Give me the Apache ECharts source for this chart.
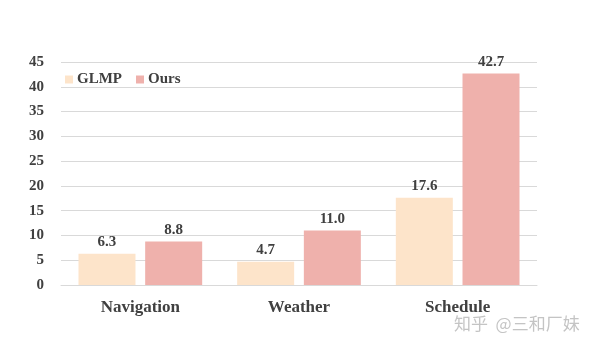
<!DOCTYPE html>
<html><head><meta charset="utf-8">
<script src="https://cdn.jsdelivr.net/npm/echarts@6/dist/echarts.min.js"></script>
<style>html,body{margin:0;padding:0;background:#fff}#c{width:600px;height:350px}</style>
</head><body><div id="c"></div>
<script>
const categories = ['Navigation', 'Weather', 'Schedule'];
const glmp = [6.3, 4.7, 17.6];
const ours = [8.8, 11.0, 42.7];
const seriesNames = ['GLMP', 'Ours'];
const yTicks = [0, 5, 10, 15, 20, 25, 30, 35, 40, 45];

const font = '"Liberation Serif", "Times New Roman", serif';
const chart = echarts.init(document.getElementById('c'));
chart.setOption({
  animation: false,
  grid: { left: 61, right: 63, top: 62, bottom: 65 },
  legend: {
    left: 60, top: 67, itemWidth: 8, itemHeight: 8, itemGap: 14,
    icon: 'rect',
    textStyle: { fontFamily: font, fontWeight: 'bold', fontSize: 15, color: '#404040', padding: [0, 0, 0, -1] },
    data: seriesNames
  },
  xAxis: {
    type: 'category', data: categories,
    axisLine: { show: true, lineStyle: { color: '#d9d9d9' } },
    axisTick: { show: false },
    axisLabel: { fontFamily: font, fontWeight: 'bold', fontSize: 17, color: '#404040', margin: 14 }
  },
  yAxis: {
    type: 'value', min: yTicks[0], max: yTicks[yTicks.length - 1], interval: 5,
    axisLine: { show: false }, axisTick: { show: false },
    splitLine: { lineStyle: { color: '#d9d9d9' } },
    axisLabel: { fontFamily: font, fontWeight: 'bold', fontSize: 15, color: '#404040', margin: 17 }
  },
  series: [
    { name: seriesNames[0], type: 'bar', data: glmp, barWidth: 57, barGap: '17%',
      itemStyle: { color: '#FDE4CA' },
      label: { show: true, position: 'top', formatter: p => p.value.toFixed(1),
        fontFamily: font, fontWeight: 'bold', fontSize: 15, color: '#404040', distance: 4 } },
    { name: seriesNames[1], type: 'bar', data: ours, barWidth: 57,
      itemStyle: { color: '#EFB1AC' },
      label: { show: true, position: 'top', formatter: p => p.value.toFixed(1),
        fontFamily: font, fontWeight: 'bold', fontSize: 15, color: '#404040', distance: 4 } }
  ],
  graphic: [{ type: 'text', left: 454, top: 315,
    style: { text: '知乎  @三和厂妹', font: '17px "Noto Sans CJK SC"', fill: '#c4c4c4' } }]
});
</script></body></html>
